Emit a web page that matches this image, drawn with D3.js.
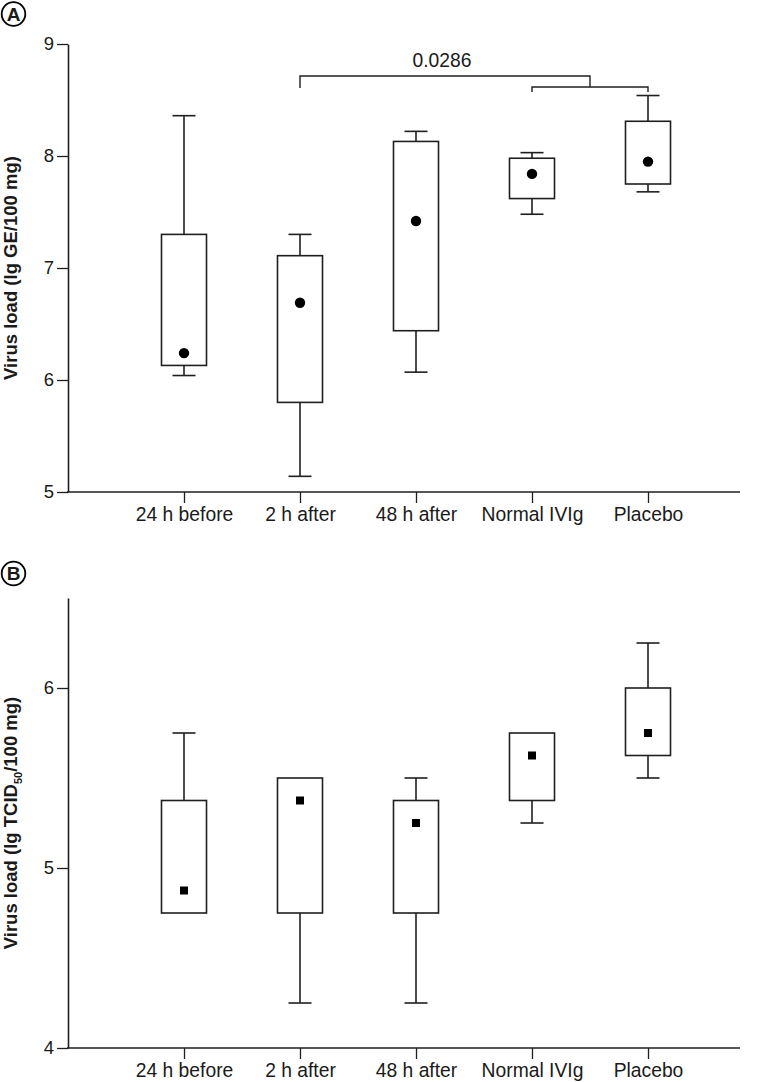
<!DOCTYPE html>
<html>
<head>
<meta charset="utf-8">
<script src="https://cdn.jsdelivr.net/npm/d3@7"></script>
<style>
  html, body { margin: 0; padding: 0; background: #fff; }
  svg { display: block; }
  text { font-family: "Liberation Sans", Arial, Helvetica, sans-serif; fill: #1a1a1a; }
</style>
</head>
<body>
<script>
// ---- data ----
const categories = ["24 h before", "2 h after", "48 h after", "Normal IVIg", "Placebo"];

// Panel A: virus load (lg GE/100 mg)
const geMin    = [6.04, 5.14, 6.07, 7.48, 7.68];
const geQ1     = [6.13, 5.80, 6.44, 7.62, 7.75];
const geQ3     = [7.30, 7.11, 8.13, 7.98, 8.31];
const geMax    = [8.36, 7.30, 8.22, 8.03, 8.54];
const geCenter = [6.24, 6.69, 7.42, 7.84, 7.95];
const geTicks  = [5, 6, 7, 8, 9];

// Panel B: virus load (lg TCID50/100 mg)
const tcMin    = [4.75, 4.25, 4.25, 5.25, 5.50];
const tcQ1     = [4.75, 4.75, 4.75, 5.375, 5.625];
const tcQ3     = [5.375, 5.50, 5.375, 5.75, 6.00];
const tcMax    = [5.75, 5.50, 5.50, 5.75, 6.25];
const tcCenter = [4.875, 5.375, 5.25, 5.625, 5.75];
const tcTicks  = [4, 5, 6];

// significance annotation (panel A)
const pValueText = "0.0286";
const bracketFrom = "2 h after";
const bracketPair = ["Normal IVIg", "Placebo"];

// ---- layout ----
const W = 767, H = 1082;
const svg = d3.select("body").append("svg").attr("width", W).attr("height", H);
const ink = "#1f1f1f";
const axisX0 = 68, axisX1 = 740;

const x = d3.scalePoint().domain(categories).range([axisX0, 764]).padding(1);

function panel(cfg) {
  const g = svg.append("g");
  const y = d3.scaleLinear().domain(cfg.domain).range([cfg.bottom, cfg.top]);

  // y axis
  const ya = g.append("g").attr("transform", `translate(${axisX0},0)`)
    .call(d3.axisLeft(y).tickValues(cfg.ticks).tickFormat(d3.format("d")).tickSize(11).tickSizeOuter(0).tickPadding(3));
  ya.select(".domain").attr("stroke", ink).attr("stroke-width", 1.6);
  ya.selectAll(".tick line").attr("stroke", ink).attr("stroke-width", 1.3);
  ya.selectAll(".tick text").attr("font-size", 18.5).attr("fill", ink)
    .style("font-family", "'Liberation Sans', Arial, sans-serif");

  // x axis
  const xa = g.append("g").attr("transform", `translate(0,${cfg.bottom})`)
    .call(d3.axisBottom(x).tickSize(11).tickSizeOuter(0).tickPadding(4));
  xa.select(".domain").remove();
  xa.append("line").attr("x1", axisX0 - 1).attr("x2", axisX1).attr("y1", 0).attr("y2", 0)
    .attr("stroke", ink).attr("stroke-width", 1.6);
  xa.selectAll(".tick line").attr("stroke", ink).attr("stroke-width", 1.3);
  xa.selectAll(".tick text").attr("font-size", 19.3).attr("fill", ink)
    .style("font-family", "'Liberation Sans', Arial, sans-serif");

  // boxes
  const boxW = 45, capW = 23;
  categories.forEach((c, i) => {
    const cx = x(c);
    const bg = g.append("g").attr("stroke", ink).attr("stroke-width", 1.6).attr("fill", "none");
    if (cfg.max[i] > cfg.q3[i]) {
      bg.append("line").attr("x1", cx).attr("x2", cx).attr("y1", y(cfg.q3[i])).attr("y2", y(cfg.max[i]));
      bg.append("line").attr("x1", cx - capW / 2).attr("x2", cx + capW / 2).attr("y1", y(cfg.max[i])).attr("y2", y(cfg.max[i]));
    }
    if (cfg.min[i] < cfg.q1[i]) {
      bg.append("line").attr("x1", cx).attr("x2", cx).attr("y1", y(cfg.q1[i])).attr("y2", y(cfg.min[i]));
      bg.append("line").attr("x1", cx - capW / 2).attr("x2", cx + capW / 2).attr("y1", y(cfg.min[i])).attr("y2", y(cfg.min[i]));
    }
    bg.append("rect").attr("x", cx - boxW / 2).attr("width", boxW)
      .attr("y", y(cfg.q3[i])).attr("height", y(cfg.q1[i]) - y(cfg.q3[i]))
      .attr("fill", "#fff");
    if (cfg.marker === "circle") {
      g.append("circle").attr("cx", cx).attr("cy", y(cfg.center[i])).attr("r", 5.2).attr("fill", "#000");
    } else {
      g.append("rect").attr("x", cx - 4).attr("y", y(cfg.center[i]) - 4).attr("width", 8).attr("height", 8).attr("fill", "#000");
    }
  });

  // y title
  const tx = 17, ty = (cfg.top + cfg.bottom) / 2;
  const t = g.append("text").attr("transform", `translate(${tx},${ty}) rotate(-90)`)
    .attr("text-anchor", "middle").attr("font-size", 18.5).attr("font-weight", "bold").attr("fill", ink);
  cfg.title(t);

  // panel label
  const lg = g.append("g").attr("transform", `translate(13.5,${cfg.labelY})`);
  lg.append("circle").attr("r", 11.8).attr("fill", "#fff").attr("stroke", "#000").attr("stroke-width", 1.8);
  lg.append("text").attr("text-anchor", "middle").attr("dy", "0.36em").attr("font-size", 19)
    .attr("font-weight", "bold").attr("fill", "#000").text(cfg.label);

  return y;
}

const yA = panel({
  domain: [5, 9], top: 44, bottom: 492, ticks: geTicks,
  min: geMin, q1: geQ1, q3: geQ3, max: geMax, center: geCenter,
  marker: "circle", label: "A", labelY: 14,
  title: t => t.text("Virus load (lg GE/100 mg)")
});

panel({
  domain: [4, 6.5], top: 598, bottom: 1048, ticks: tcTicks,
  min: tcMin, q1: tcQ1, q3: tcQ3, max: tcMax, center: tcCenter,
  marker: "square", label: "B", labelY: 573.5,
  title: t => {
    t.append("tspan").text("Virus load (lg TCID");
    t.append("tspan").attr("font-size", 11).attr("dy", 5).text("50");
    t.append("tspan").attr("dy", -5).text("/100 mg)");
  }
});

// significance bracket (panel A)
const bg = svg.append("g").attr("stroke", ink).attr("stroke-width", 1.4).attr("fill", "none");
const xFrom = x(bracketFrom);
const xP1 = x(bracketPair[0]), xP2 = x(bracketPair[1]);
const xMid = (xP1 + xP2) / 2;
const outerY = yA(8.714), outerLeg = yA(8.607);
const innerY = yA(8.616), innerLeg = yA(8.571);
bg.append("path").attr("d", `M${xFrom},${outerLeg}V${outerY}H${xMid}V${innerY}`);
bg.append("path").attr("d", `M${xP1},${innerLeg}V${innerY}H${xP2}V${innerLeg}`);
svg.append("text").attr("x", (xFrom + xMid) / 2 - 3).attr("y", yA(8.795))
  .attr("text-anchor", "middle").attr("font-size", 19.3).attr("fill", ink).text(pValueText);
</script>
</body>
</html>
